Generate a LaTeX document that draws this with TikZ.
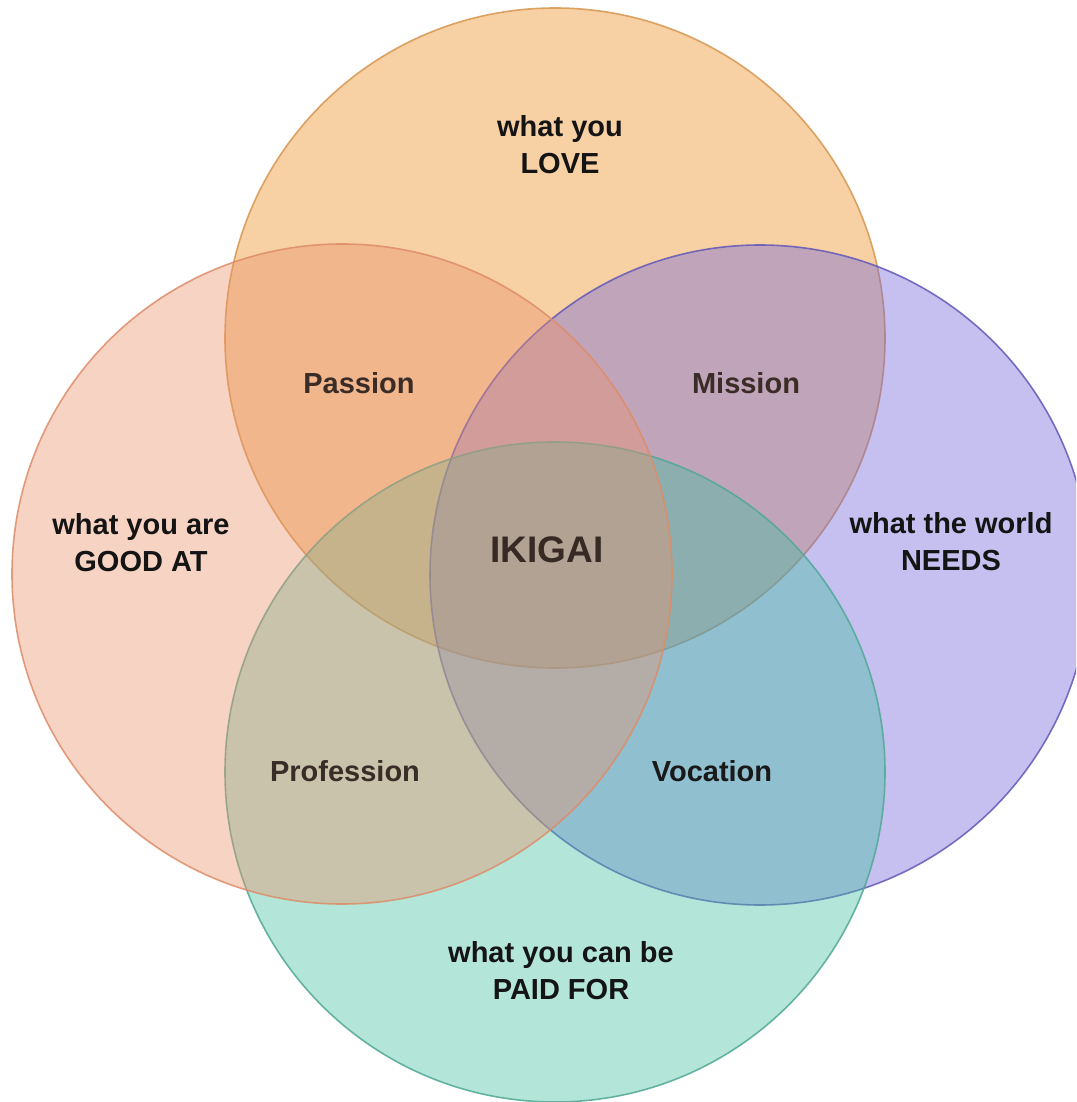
\documentclass[tikz,border=0pt]{standalone}
\usepackage{fontspec}
\setmainfont{Liberation Sans}
\definecolor{loveF}{RGB}{235,138,28}
\definecolor{goodF}{RGB}{235,145,105}
\definecolor{needF}{RGB}{110,98,218}
\definecolor{paidF}{RGB}{65,190,160}
\definecolor{loveD}{RGB}{214,150,80}
\definecolor{goodD}{RGB}{222,140,105}
\definecolor{needD}{RGB}{98,88,185}
\definecolor{paidD}{RGB}{80,168,148}
\definecolor{inner}{RGB}{58,44,38}
\tikzset{
  ring/.style={fill opacity=0.4, draw opacity=0.85, line width=1.6pt},
  big/.style={font=\fontsize{29}{37}\selectfont\bfseries, align=center, text=black!92},
  zone/.style={font=\fontsize{29}{35}\selectfont\bfseries, anchor=base, text=inner},
}
\begin{document}
\begin{tikzpicture}[x=1pt,y=-1pt]
\fill[white] (0,0) rectangle (1076,1102);
\clip (0,0) rectangle (1076,1102);
\coordinate (cLove) at (555,338);
\coordinate (cGood) at (342,574);
\coordinate (cNeed) at (760,575);
\coordinate (cPaid) at (555,772);
\path[ring, fill=loveF, draw=loveD] (cLove) circle (330pt);
\path[ring, fill=needF, draw=needD] (cNeed) circle (330pt);
\path[ring, fill=paidF, draw=paidD] (cPaid) circle (330pt);
\path[ring, fill=goodF, draw=goodD] (cGood) circle (330pt);
\node[big] (love) at (560,145) {what you\\LOVE};
\node[big] (good) at (141,543) {what you are\\GOOD AT};
\node[big] (need) at (951,542) {what the world\\NEEDS};
\node[big] (paid) at (561,971) {what you can be\\PAID FOR};
\node[zone] (passion) at (359,393) {Passion};
\node[zone] (mission) at (746,393) {Mission};
\node[zone] (profession) at (345,781) {Profession};
\node[zone, text=black!90] (vocation) at (712,781) {Vocation};
\node[zone, font=\fontsize{37}{40}\selectfont\bfseries, text=inner!95!black] (ikigai) at (547,562) {IKIGAI};
\end{tikzpicture}
\end{document}
